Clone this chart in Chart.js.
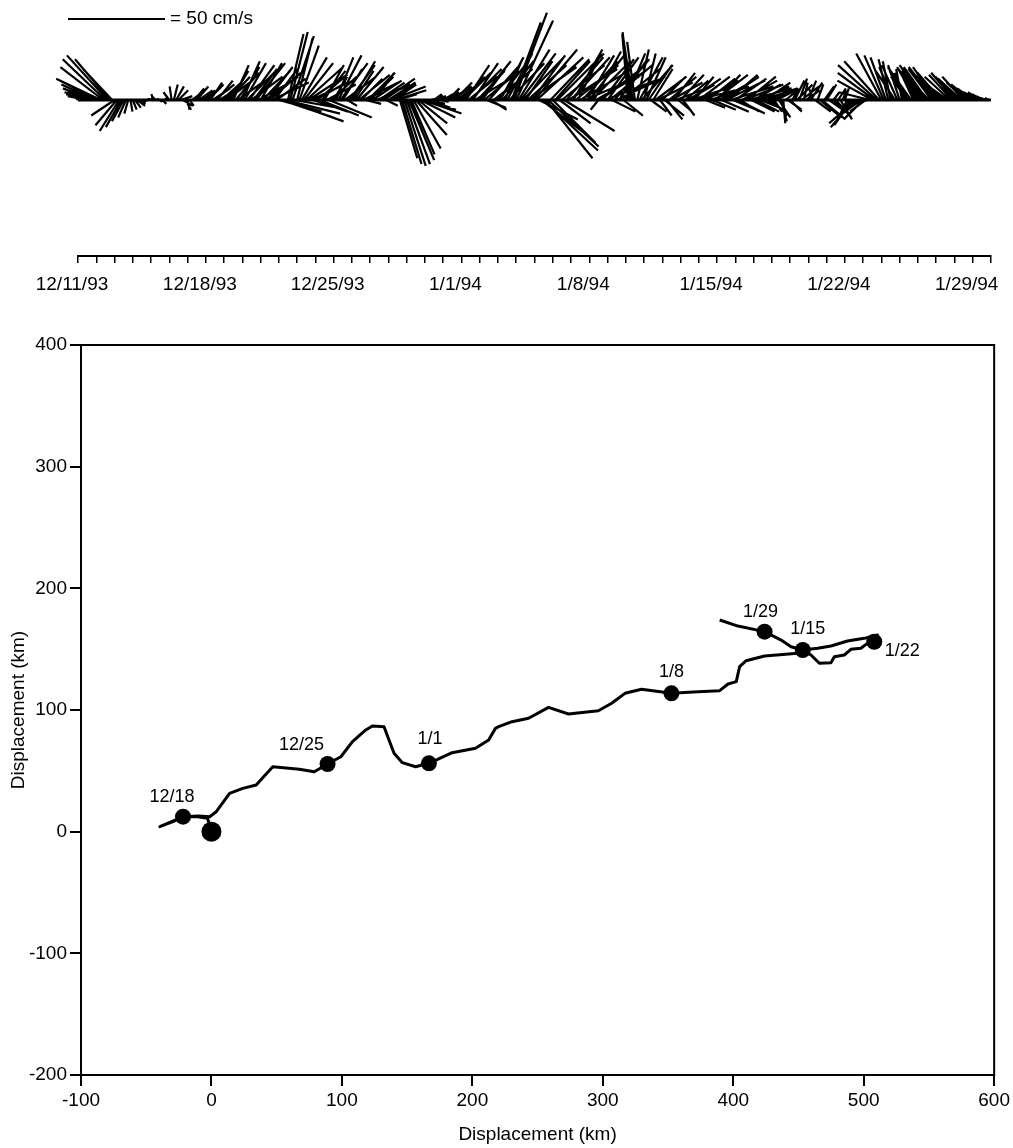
<!DOCTYPE html>
<html>
<head>
<meta charset="utf-8">
<script src="https://cdn.jsdelivr.net/npm/chart.js@4.4.1/dist/chart.umd.min.js"></script>
<style>
    html, body { margin: 0; padding: 0; background: #fff; }
    #wrap { position: relative; width: 1013px; height: 1148px; }
    canvas { position: absolute; left: 0; }
    #stickChart { top: 0; }
    #pvdChart { top: 300px; }
</style>
</head>
<body>
<div id="wrap">
    <canvas id="stickChart" width="1013" height="300"></canvas>
    <canvas id="pvdChart" width="1013" height="848"></canvas>
</div>
<script>
// ─── DATA ────────────────────────────────────────────────────

// Current sticks, one every 3 h starting 12/11/93 (east / north, cm/s), one row per day
const stickStepDays = 0.125;
const stickU = [
    -4, -6, -8, -9, -10, -12, -14, -16,
    -18, -20, -23, -22, -22, -21, -18, -15,
    -12, -11, -10, -8, -6, -4, -2, 1,
    2, 3, 4, 3, 2, 1, 1, 0,
    1, -1, -2, 0, 1, 2, 1, 0,
    -3, -1, 2, 4, 5, 6, 5, 3,
    1, 2, 4, 5, 6, 7, 5, 6,
    7, 8, 6, 9, 10, 8, 11, 10,
    9, 12, 11, 9, 8, 12, 14, 10,
    9, 11, 14, 13, 16, 12, 15, 18,
    11, 14, 17, 13, 16, 19, 12, 15,
    22, 27, 31, 28, 8, 9, 11, 22,
    8, 10, 13, 15, 19, 20, 22, 18,
    16, 14, 20, 12, 10, 15, 22, 13,
    7, 9, 12, 14, 10, 16, 5, 13,
    12, 10, 14, 16, 11, 18, 8, 14,
    12, 15, 10, 17, 13, 9, 16, 6,
    14, 18, 12, 16, 10, 9, 10, 11,
    12, 13, 12, 14, 16, 15, 18, 20,
    16, 12, 8, 6, 4, 5, 3, 4,
    5, 7, 6, 8, 10, 9, 11, 12,
    12, 14, 12, 15, 16, 13, 18, 14,
    16, 12, 18, 10, 15, 8, 17, 19,
    14, 12, 16, 9, 13, 18, 15, 17,
    19, 16, 18, 21, 14, 20, 24, 17,
    22, 24, 20, 26, 28, 24, 26, 20,
    22, 18, 24, 16, 22, 26, 19, 25,
    20, 15, 22, 12, 25, 18, 28, 14,
    18, 20, 14, 24, -4, 22, 16, 26,
    16, 22, 12, 18, 25, 14, 20, 10,
    10, -3, -4, -5, -4, 6, 12, 16,
    6, 10, 12, 8, 10, 16, 18, 6,
    12, 10, 8, 14, 16, 11, 18, 6,
    12, 6, 12, 14, 16, 18, 10, 20,
    16, 12, 18, 10, 14, 20, 12, 17,
    12, 16, 14, 18, 20, 15, 22, 12,
    16, 14, 10, 18, 20, 15, 22, 12,
    14, 12, 16, 10, 18, 13, 8, 15,
    8, 4, 10, 6, 3, 1, 5, 7,
    6, 3, 5, 8, 4, 9, 2, 7,
    4, 6, -2, 8, 3, 10, 12, 5,
    5, 10, 6, 3, 8, 4, 6, 2,
    2, -4, -6, -9, -12, -14, -13, -11,
    -10, -8, -12, -16, -18, -19, -20, -18,
    -13, -10, -8, -5, -4, -7, -10, -8,
    -6, -3, -5, -8, -10, -12, -6, -9,
    -10, -12, -11, -13, -12, -14, -12, -13,
    -12, -14, -12, -13, -15, -14, -13, -12,
    -12, -11, -10, -12, -11, -10, -9, -10,
    -8, -8, -7, -6, -5, -4, -3, -2,
    -1
];
const stickV = [
    4, 5, 4, 3, 2, 3, 4, 6,
    8, 10, 11, 17, 21, 23, 21, 16,
    -8, -13, -16, -14, -11, -9, -7, -6,
    -5, -4, -3, -2, -1, -1, 0, 1,
    2, 3, 2, 1, -1, -2, 1, 2,
    4, 7, 8, 7, 5, 2, -3, -5,
    -5, -3, 3, 6, 7, 5, 3, 5,
    6, 8, 9, 6, 8, 10, 7, 9,
    8, 9, 12, 15, 18, 14, 10, 17,
    20, 19, 14, 18, 12, 16, 19, 10,
    19, 15, 12, 17, 14, 9, 16, 11,
    -6, -9, -11, -7, 34, 35, 33, -4,
    32, 28, 22, 19, 17, 13, 10, -6,
    9, 12, -8, 15, 18, 8, -9, 12,
    12, 22, 23, 19, 16, 12, -3, 18,
    20, 15, 17, 13, 11, 9, -2, 14,
    12, 10, 14, 8, 9, 6, 11, -3,
    9, 7, 8, 5, 3, -30, -33, -34,
    -33, -31, -28, -25, -18, -12, -9, -7,
    -5, -4, -2, 2, 3, 2, 1, -1,
    3, 4, 6, 5, 7, 9, 8, 10,
    12, 14, 18, 12, 16, 19, 11, 15,
    20, 16, 15, -4, 17, -5, 13, 16,
    18, 22, 20, 21, 24, 19, 40, 45,
    41, 26, 24, 22, 20, 18, 17, 23,
    26, 22, -10, -20, -26, -30, -24, 21,
    -22, 20, 24, -12, 18, -16, 22, 16,
    22, 26, 18, 24, 15, 20, 12, 23,
    23, 20, 25, 14, -5, 17, 21, 10,
    22, 18, -6, 21, 12, 20, 16, -8,
    24, 34, 35, 33, 30, 26, 22, 18,
    24, 22, 18, -6, 16, 12, 9, -8,
    12, -8, -10, 12, 9, 14, 7, -5,
    13, -8, 10, 8, 11, 6, 12, 5,
    12, 6, 10, -4, 11, 7, -5, 13,
    13, 9, -6, 12, 10, 13, 7, -5,
    11, -7, -6, 10, 8, 12, 6, -6,
    8, -6, 7, -4, 6, 9, -5, 5,
    -8, -6, 5, -9, -11, -12, 4, -5,
    -6, 6, 10, 8, 11, 7, 9, 5,
    10, 9, 6, -6, 8, -8, -10, 7,
    8, -7, -4, 4, -9, 6, -10, 5,
    6, -8, -10, -13, -14, -12, -10, -8,
    -10, -6, -3, 4, 10, 14, 18, 20,
    24, 23, 22, 21, 20, 17, 15, 18,
    18, 16, 14, 12, 15, 17, 13, 16,
    16, 17, 15, 18, 17, 14, 16, 17,
    17, 15, 14, 13, 11, 10, 12, 13,
    14, 12, 10, 11, 12, 9, 7, 8,
    6, 5, 4, 4, 3, 2, 1, 1,
    0
];
const dateTickLabels = ['12/11/93', '12/18/93', '12/25/93', '1/1/94', '1/8/94', '1/15/94', '1/22/94', '1/29/94'];
const totalDays = 50;
const scaleBarSpeed = 50;   // cm/s

// Progressive vector track (km east / km north of the mooring)
const trackX = [
    0, -3, -12, -22, -30, -39.6, -31, -21.8, -10, -1.4, 3.7, 13.9, 24, 34.3, 47, 67.4, 78.8, 89,
    99.2, 108.1, 118.3, 123.4, 132.3, 136.1, 140, 146.3, 156.5, 166.7, 184.5, 202.4, 212.5,
    217.7, 220.2, 230.4, 243.1, 258.4, 273.7, 296.6, 306.8, 317, 329.7, 352.6, 373, 389.6, 396,
    402.3, 404.9, 409.9, 424, 449.4, 453.3, 459.6, 466, 474.9, 477.5, 485.1, 490.2, 497.8, 502.9,
    508.1, 510.6, 500.4, 487.6, 474.9, 464.7, 453.3, 444.3, 436.7, 424, 403.6, 389.6
];
const trackY = [
    0, 11, 12.5, 12, 8, 4.1, 8, 12.3, 12.8, 12.3, 16.4, 31.5, 35.6, 38.4, 53.4, 51.3, 49.3, 55.6,
    61.6, 74, 83.6, 86.9, 86.3, 75.3, 64.4, 56.7, 53.4, 56.2, 64.9, 68.5, 75.3,
    84.9, 86.3, 90.4, 93.2, 102.2, 96.7, 99.4, 105.5, 113.7, 117, 113.7, 115, 115.9, 121.4,
    123.3, 135.6, 140.5, 144.4, 146.6, 149.3, 145.2, 138.4, 138.9, 143.8, 145.2, 149.9, 150.7, 154.8,
    156.1, 161.6, 158.9, 156.7, 152.6, 150.7, 149.3, 152, 157.5, 164.4, 169, 174
];
const dateLabels = ['12/18', '12/25', '1/1', '1/8', '1/15', '1/22', '1/29'];
const dateX = [-21.8, 89, 166.7, 352.6, 453.3, 508.1, 424];
const dateY = [12.3, 55.6, 56.2, 113.7, 149.3, 156.1, 164.4];
const originX = [0];
const originY = [0];


// ─── SHARED STYLE ────────────────────────────────────────────

Chart.defaults.font.family = "'Liberation Sans', Arial, sans-serif";
Chart.defaults.color = '#000';
const INK = '#000';
const FONT_SIZE = 19;


// ─── CHART 1: CURRENT STICK PLOT ─────────────────────────────

/**
 * Feather plot: each stick starts on the time axis and points along the current.
 * x and y share one pixel scale for speed so the stick angles are true.
 */
function renderStickChart() {
    const area = { left: 78, right: 991, top: 4, bottom: 256, base: 100 };
    const pxPerDay = (area.right - area.left) / totalDays;
    const pxPerCms = 1.94;
    const daysPerCms = pxPerCms / pxPerDay;

    const sticks = [];
    stickU.forEach((u, i) => {
        const t = i * stickStepDays;
        sticks.push({ x: t, y: 0 }, { x: t + u * daysPerCms, y: stickV[i] }, { x: t, y: null });
    });

    // scale bar sits above the feathers, a little left of the first day
    const barStart = -10 / pxPerDay;
    const barEnd = barStart + scaleBarSpeed * daysPerCms;
    const barV = (area.base - 19) / pxPerCms;

    const scaleBarText = {
        id: 'scaleBarText',
        afterDatasetsDraw(chart) {
            const { ctx, scales } = chart;
            ctx.save();
            ctx.fillStyle = INK;
            ctx.font = FONT_SIZE + "px 'Liberation Sans', Arial, sans-serif";
            ctx.textBaseline = 'middle';
            ctx.fillText('= ' + scaleBarSpeed + ' cm/s', scales.x.getPixelForValue(barEnd) + 5, scales.y.getPixelForValue(barV));
            ctx.restore();
        }
    };

    new Chart(document.getElementById('stickChart'), {
        type: 'scatter',
        data: {
            datasets: [
                {
                    data: sticks,
                    showLine: true,
                    spanGaps: false,
                    borderColor: INK,
                    borderWidth: 2.2,
                    pointRadius: 0,
                    clip: false
                },
                {
                    // zero line under the sticks
                    data: [{ x: 0, y: 0 }, { x: totalDays, y: 0 }],
                    showLine: true,
                    borderColor: INK,
                    borderWidth: 3,
                    pointRadius: 0,
                    clip: false
                },
                {
                    data: [{ x: barStart, y: barV }, { x: barEnd, y: barV }],
                    showLine: true,
                    borderColor: INK,
                    borderWidth: 2,
                    pointRadius: 0,
                    clip: false
                }
            ]
        },
        options: {
            responsive: false,
            animation: false,
            devicePixelRatio: 1,
            layout: { padding: { left: area.left, right: 1013 - area.right, top: area.top, bottom: 0 } },
            plugins: { legend: { display: false }, tooltip: { enabled: false } },
            scales: {
                x: {
                    type: 'linear',
                    min: 0,
                    max: totalDays,
                    afterFit: s => { s.height = 300 - area.bottom; },
                    ticks: {
                        stepSize: 1,
                        autoSkip: false,
                        maxRotation: 0,
                        minRotation: 0,
                        padding: 10,
                        labelOffset: -6,
                        color: INK,
                        font: { size: FONT_SIZE },
                        callback: v => (v % 7 === 0 && dateTickLabels[v / 7]) ? dateTickLabels[v / 7] : ''
                    },
                    grid: { drawOnChartArea: false, drawTicks: true, tickLength: 7, color: INK, lineWidth: 1.5 },
                    border: { display: true, color: INK, width: 2 }
                },
                y: {
                    display: false,
                    min: -(area.bottom - area.base) / pxPerCms,
                    max: (area.base - area.top) / pxPerCms
                }
            }
        },
        plugins: [scaleBarText]
    });
}


// ─── CHART 2: PROGRESSIVE VECTOR DIAGRAM ─────────────────────

/**
 * Track of displacement with weekly date markers and the mooring origin.
 */
function renderDisplacementChart() {
    const labelOffsets = [[-11, -20], [-26, -19], [1, -24], [0, -21], [5, -21], [28, 9], [-4, -20]];

    const frame = {
        id: 'frame',
        afterDraw(chart) {
            const { ctx, chartArea: a } = chart;
            ctx.save();
            ctx.strokeStyle = INK;
            ctx.lineWidth = 2;
            ctx.strokeRect(a.left, a.top, a.right - a.left, a.bottom - a.top);
            ctx.restore();
        }
    };

    const dateText = {
        id: 'dateText',
        afterDatasetsDraw(chart) {
            const { ctx, scales } = chart;
            ctx.save();
            ctx.fillStyle = INK;
            ctx.font = "18px 'Liberation Sans', Arial, sans-serif";
            ctx.textAlign = 'center';
            ctx.textBaseline = 'middle';
            dateLabels.forEach((lbl, i) => {
                ctx.fillText(lbl,
                    scales.x.getPixelForValue(dateX[i]) + labelOffsets[i][0],
                    scales.y.getPixelForValue(dateY[i]) + labelOffsets[i][1]);
            });
            ctx.restore();
        }
    };

    const axisCommon = {
        type: 'linear',
        ticks: { stepSize: 100, color: INK, font: { size: FONT_SIZE }, padding: 3, maxRotation: 0 },
        grid: { drawOnChartArea: false, drawTicks: true, tickLength: 11, color: INK, lineWidth: 2 },
        border: { display: true, color: INK, width: 2 }
    };
    const axisTitle = { display: true, text: 'Displacement (km)', color: INK, font: { size: FONT_SIZE } };

    new Chart(document.getElementById('pvdChart'), {
        type: 'scatter',
        data: {
            datasets: [
                {
                    data: trackX.map((x, i) => ({ x, y: trackY[i] })),
                    showLine: true,
                    borderColor: INK,
                    borderWidth: 3,
                    borderJoinStyle: 'round',
                    pointRadius: 0,
                    tension: 0
                },
                {
                    data: dateX.map((x, i) => ({ x, y: dateY[i] })),
                    pointRadius: 8,
                    pointBackgroundColor: INK,
                    pointBorderWidth: 0
                },
                {
                    data: originX.map((x, i) => ({ x, y: originY[i] })),
                    pointRadius: 10,
                    pointBackgroundColor: INK,
                    pointBorderWidth: 0
                }
            ]
        },
        options: {
            responsive: false,
            animation: false,
            devicePixelRatio: 1,
            layout: { padding: { left: 0, right: 16, top: 45, bottom: 0 } },
            plugins: { legend: { display: false }, tooltip: { enabled: false } },
            scales: {
                x: {
                    ...axisCommon, min: -100, max: 600,
                    title: { ...axisTitle, padding: { top: 4, bottom: 2 } },
                    afterFit: s => { s.height = 73; }
                },
                y: {
                    ...axisCommon, min: -200, max: 400,
                    title: { ...axisTitle, padding: { top: 7, bottom: 2 } },
                    afterFit: s => { s.width = 81; }
                }
            }
        },
        plugins: [frame, dateText]
    });
}


renderStickChart();
renderDisplacementChart();
</script>
</body>
</html>
